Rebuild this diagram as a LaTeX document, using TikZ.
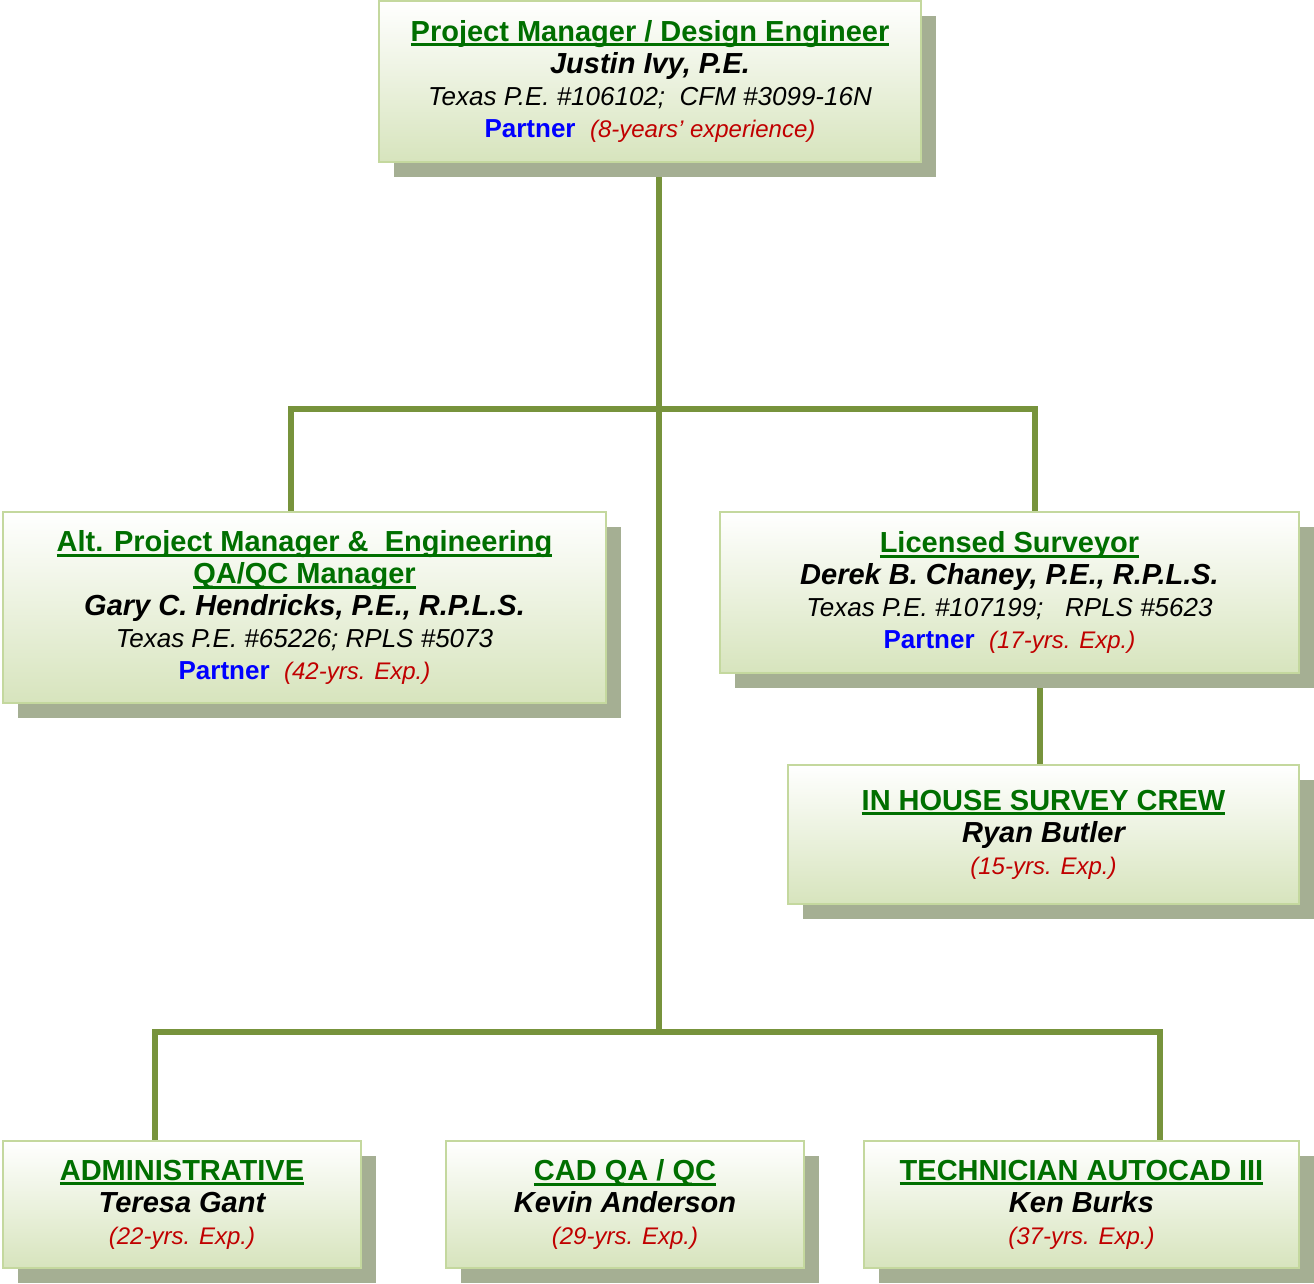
\documentclass[tikz,border=0pt]{standalone}
\usepackage{fontspec}
\setmainfont{Liberation Sans}
\usetikzlibrary{shadows,backgrounds}

\definecolor{rolegreen}{HTML}{006F00}
\definecolor{partnerblue}{HTML}{0000FF}
\definecolor{expred}{HTML}{C00000}
\definecolor{boxedge}{HTML}{C4D89E}
\definecolor{boxfill}{HTML}{D7E4BD}
\definecolor{shadowgreen}{HTML}{A5AF93}
\definecolor{linkgreen}{HTML}{77933C}

\newcommand\rolefont{\fontsize{29}{32}\selectfont\bfseries\color{rolegreen}}
\newcommand\namefont{\fontsize{29}{32}\selectfont\bfseries\itshape}
\newcommand\licfont{\fontsize{26}{32}\selectfont\itshape}
\newcommand\partnerfont{\fontsize{26}{32}\selectfont\bfseries\color{partnerblue}}
\newcommand\expfont{\fontsize{24}{32}\selectfont\itshape\color{expred}}
\newcommand\ulrole[1]{\leavevmode\setbox0\hbox{#1}\rlap{\rule[-5pt]{\wd0}{3pt}}\box0}

\tikzset{
  orgbox/.style={draw=boxedge, line width=2pt, top color=white, bottom color=boxfill,
    align=center, inner sep=0pt, font=\fontsize{26}{32}\selectfont,
    drop shadow={shadow xshift=15pt, shadow yshift=-15pt, fill=shadowgreen, opacity=1}},
  link/.style={draw=linkgreen, line width=6pt},
}

\begin{document}
\begin{tikzpicture}[x=1pt,y=1pt]
    \useasboundingbox (0,0) rectangle (1314,1284);
    % boxes
    \node[orgbox, minimum width=542pt, minimum height=161pt] (pm) at (650, 1202.5)
      {{\rolefont\ulrole{Project Manager / Design Engineer}}\\
       {\namefont Justin Ivy, P.E.}\\
       {\licfont Texas P.E. \#106102;\ \ CFM \#3099-16N}\\
       {\partnerfont Partner}\ \ {\expfont (8-years’ experience)}};
    \node[orgbox, minimum width=603pt, minimum height=191pt] (alt) at (304.5, 676.5)
      {{\rolefont\ulrole{Alt. Project Manager \&\ \ Engineering}}\\
       {\rolefont\ulrole{QA/QC Manager}}\\
       {\namefont Gary C. Hendricks, P.E., R.P.L.S.}\\
       {\licfont Texas P.E. \#65226; RPLS \#5073}\\
       {\partnerfont Partner}\ \ {\expfont (42-yrs. Exp.)}};
    \node[orgbox, minimum width=579pt, minimum height=161pt] (surv) at (1009.5, 691.5)
      {{\rolefont\ulrole{Licensed Surveyor}}\\
       {\namefont Derek B. Chaney, P.E., R.P.L.S.}\\
       {\licfont Texas P.E. \#107199;\ \ \ RPLS \#5623}\\
       {\partnerfont Partner}\ \ {\expfont (17-yrs. Exp.)}};
    \node[orgbox, minimum width=511pt, minimum height=139pt] (crew) at (1043.5, 449.5)
      {{\rolefont\ulrole{IN HOUSE SURVEY CREW}}\\
       {\namefont Ryan Butler}\\
       {\expfont (15-yrs. Exp.)}};
    \node[orgbox, minimum width=358pt, minimum height=127pt] (admin) at (182, 79.5)
      {{\rolefont\ulrole{ADMINISTRATIVE}}\\
       {\namefont Teresa Gant}\\
       {\expfont (22-yrs. Exp.)}};
    \node[orgbox, minimum width=358pt, minimum height=127pt] (cad) at (625, 79.5)
      {{\rolefont\ulrole{CAD QA / QC}}\\
       {\namefont Kevin Anderson}\\
       {\expfont (29-yrs. Exp.)}};
    \node[orgbox, minimum width=435pt, minimum height=127pt] (tech) at (1081.5, 79.5)
      {{\rolefont\ulrole{TECHNICIAN AUTOCAD III}}\\
       {\namefont Ken Burks}\\
       {\expfont (37-yrs. Exp.)}};
    % junctions
    \coordinate (hubA) at (659, 875);
    \coordinate (altin) at (291, 875);
    \coordinate (survin) at (1035, 875);
    \coordinate (crewin) at (1040, 600);
    \coordinate (hubB) at (659, 252);
    \coordinate (adminin) at (155, 252);
    \coordinate (techin) at (1160, 252);
    % connectors
    \begin{scope}[on background layer]
      \draw[link] (pm.south -| hubA) -- (hubB);
      \draw[link] (altin |- alt.north) -- (altin) -- (survin) -- (survin |- surv.north);
      \draw[link] (surv.south -| crewin) -- (crew.north -| crewin);
      \draw[link] (adminin |- admin.north) -- (adminin) -- (techin) -- (techin |- tech.north);
    \end{scope}
\end{tikzpicture}
\end{document}
